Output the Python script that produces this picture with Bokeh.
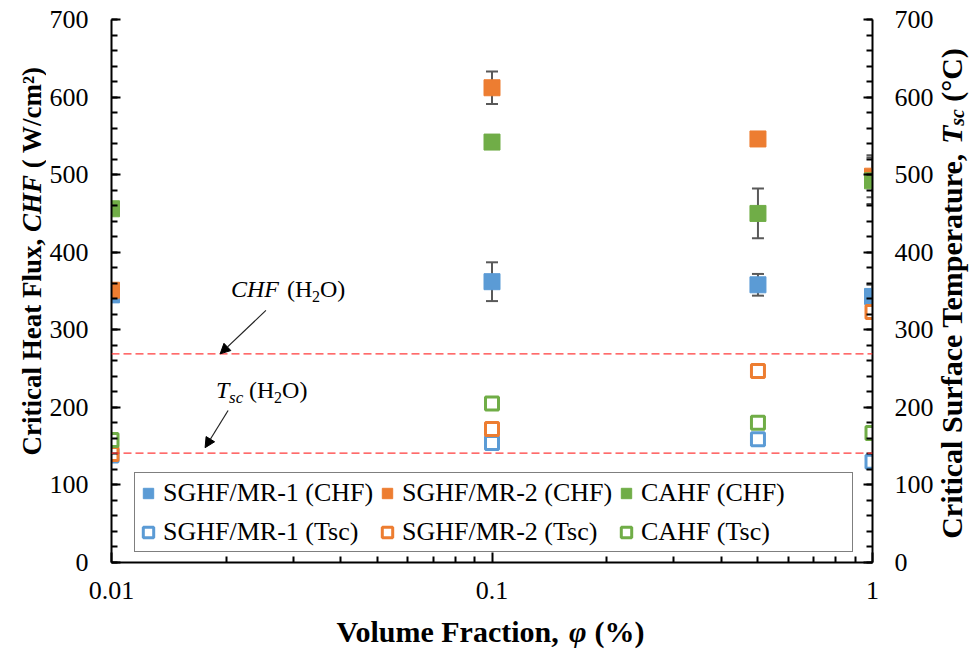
import math

from bokeh.embed import file_html
from bokeh.layouts import column, row
from bokeh.models import (Arrow, ColumnDataSource, FixedTicker, Label, Legend,
                          LegendItem, LinearAxis, NormalHead, NumeralTickFormatter,
                          Range1d, Span, TeeHead, Whisker)
from bokeh.plotting import figure
from bokeh.resources import INLINE

# ---- data -----------------------------------------------------------------
phi = [0.01, 0.1, 0.5, 1.0]                      # volume fraction (%)

chf_mr1 = [345, 362, 358, 343]                   # CHF, W/cm2
chf_mr2 = [351, 612, 546, 498]
chf_cahf = [456, 542, 450, 492]
chf_mr1_err = [0, 25, 14, 15]
chf_mr2_err = [0, 21, 0, 27]
chf_cahf_err = [0, 0, 32, 30]

tsc_mr1 = [138, 154, 159, 130]                   # surface temperature, degC
tsc_mr2 = [140, 172, 247, 323]
tsc_cahf = [158, 205, 180, 167]

chf_water = 269                                  # pure-water reference values
tsc_water = 141

y_ticks = list(range(0, 701, 100))
y_minor = list(range(0, 701, 20))
x_ticks = [0.01, 0.1, 1.0]
x_minor = [k * 10.0 ** e for e in (-2, -1) for k in range(2, 10)]

BLUE, ORANGE, GREEN = "#5B9BD5", "#ED7D31", "#70AD47"
FONT = "Liberation Serif"

# ---- page geometry: title strips around the main chart --------------------
W, H = 979, 652
FRAME_L, FRAME_R, FRAME_T, FRAME_B = 108, 872, 19, 562
LEFT_W, RIGHT_W, BOTTOM_H = 46, 43, 40
MAIN_W, MAIN_H = W - LEFT_W - RIGHT_W, H - BOTTOM_H

# ---- main chart -----------------------------------------------------------
p = figure(width=MAIN_W, height=MAIN_H, x_axis_type="log",
           x_range=Range1d(0.01, 1.0), y_range=Range1d(0, 700),
           output_backend="svg", toolbar_location=None,
           min_border_left=FRAME_L - LEFT_W, min_border_right=MAIN_W + LEFT_W - FRAME_R,
           min_border_top=FRAME_T, min_border_bottom=MAIN_H - FRAME_B)
p.extra_y_ranges = {"tsc": Range1d(0, 700)}
p.outline_line_color = None
p.grid.visible = False
p.background_fill_color = "white"
p.border_fill_color = "white"


def style_axis(ax, size="26px", tick_in=9, minor_in=6, standoff=20):
    ax.axis_line_color = "black"
    ax.axis_line_width = 2
    ax.major_tick_line_color = "black"
    ax.major_tick_line_width = 2
    ax.minor_tick_line_color = "black"
    ax.minor_tick_line_width = 2
    ax.major_tick_in = tick_in
    ax.major_tick_out = 0
    ax.minor_tick_in = minor_in
    ax.minor_tick_out = 0
    ax.major_label_text_font = FONT
    ax.major_label_text_font_size = size
    ax.major_label_text_color = "black"
    ax.major_label_standoff = standoff
    ax.axis_label = None


yax = p.yaxis[0]
yax.ticker = FixedTicker(ticks=y_ticks, minor_ticks=y_minor)
style_axis(yax, standoff=23)

yax2 = LinearAxis(y_range_name="tsc")
yax2.ticker = FixedTicker(ticks=y_ticks, minor_ticks=y_minor)
style_axis(yax2, standoff=22)
p.add_layout(yax2, "right")

xax = p.xaxis[0]
xax.ticker = FixedTicker(ticks=x_ticks, minor_ticks=x_minor)
xax.formatter = NumeralTickFormatter(format="0.[00]")
style_axis(xax, tick_in=10, minor_in=6, standoff=19)

# ---- error bars -----------------------------------------------------------
eb_x, eb_lo, eb_hi = [], [], []
for ys, es in ((chf_mr1, chf_mr1_err), (chf_mr2, chf_mr2_err), (chf_cahf, chf_cahf_err)):
    for xv, yv, ev in zip(phi, ys, es):
        if ev > 0:
            eb_x.append(xv)
            eb_lo.append(yv - ev)
            eb_hi.append(yv + ev)
eb_src = ColumnDataSource(dict(x=eb_x, lo=eb_lo, hi=eb_hi))
whisk = Whisker(base="x", lower="lo", upper="hi", source=eb_src,
                line_color="#595959", line_width=2, level="underlay",
                upper_head=TeeHead(size=12, line_color="#595959", line_width=2),
                lower_head=TeeHead(size=12, line_color="#595959", line_width=2))
p.add_layout(whisk)

# ---- markers --------------------------------------------------------------
r_c1 = p.scatter(phi, chf_mr1, marker="square", size=16, fill_color=BLUE, line_color=BLUE)
r_c2 = p.scatter(phi, chf_mr2, marker="square", size=16, fill_color=ORANGE, line_color=ORANGE)
r_c3 = p.scatter(phi, chf_cahf, marker="square", size=16, fill_color=GREEN, line_color=GREEN)
r_t1 = p.scatter(phi, tsc_mr1, marker="square", size=13, fill_color="white",
                 line_color=BLUE, line_width=3, y_range_name="tsc")
r_t2 = p.scatter(phi, tsc_mr2, marker="square", size=13, fill_color="white",
                 line_color=ORANGE, line_width=3, y_range_name="tsc")
r_t3 = p.scatter(phi, tsc_cahf, marker="square", size=13, fill_color="white",
                 line_color=GREEN, line_width=3, y_range_name="tsc")

# ---- water reference lines ----------------------------------------------
p.add_layout(Span(location=chf_water, dimension="width", line_color="#FF3B3B",
                  line_dash="8 4", line_width=1.4))
p.add_layout(Span(location=tsc_water, dimension="width", line_color="#FF3B3B",
                  line_dash="8 4", line_width=1.4, y_range_name="tsc"))

# ---- annotations for the reference lines --------------------------------
head = dict(size=10, fill_color="black", line_color="black")
p.add_layout(Arrow(x_start=0.02546, y_start=325, x_end=0.0193, y_end=chf_water,
                   line_color="#222222", line_width=1.2, end=NormalHead(**head)))
p.add_layout(Arrow(x_start=0.02025, y_start=196, x_end=0.01762, y_end=tsc_water + 7,
                   line_color="#222222", line_width=1.2, end=NormalHead(**head),
                   y_range_name="tsc"))


def txt(fig, x, y, text, size, style="normal", dx=0, dy=0, angle=0.0, align="left"):
    fig.add_layout(Label(x=x, y=y, text=text, x_offset=dx, y_offset=dy, angle=angle,
                         text_font=FONT, text_font_size=size, text_font_style=style,
                         text_color="black", text_baseline="middle",
                         text_align=align))


# "CHF (H2O)"  (anchored on the text's vertical centre)
txt(p, 0.0206, 352, "CHF", "24px", "italic")
txt(p, 0.0206, 352, "(H", "24px", dx=56)
txt(p, 0.0206, 352, "2", "16px", dx=81, dy=-7)
txt(p, 0.0206, 352, "O)", "24px", dx=89)
# "Tsc (H2O)"
txt(p, 0.01883, 222, "T", "24px", "italic")
txt(p, 0.01883, 222, "sc", "17px", "italic", dx=13, dy=-7)
txt(p, 0.01883, 222, "(H", "24px", dx=33)
txt(p, 0.01883, 222, "2", "16px", dx=58, dy=-7)
txt(p, 0.01883, 222, "O)", "24px", dx=66)

# ---- legend ---------------------------------------------------------------
legend = Legend(items=[
    LegendItem(label="SGHF/MR-1 (CHF)", renderers=[r_c1]),
    LegendItem(label="SGHF/MR-2 (CHF)", renderers=[r_c2]),
    LegendItem(label="CAHF (CHF)", renderers=[r_c3]),
    LegendItem(label="SGHF/MR-1 (Tsc)", renderers=[r_t1]),
    LegendItem(label="SGHF/MR-2 (Tsc)", renderers=[r_t2]),
    LegendItem(label="CAHF (Tsc)", renderers=[r_t3]),
], orientation="horizontal", ncols=3, location=(23, 10))
legend.label_text_font = FONT
legend.label_text_font_size = "26px"
legend.label_text_color = "black"
legend.glyph_width = 26
legend.glyph_height = 30
legend.label_standoff = 2
legend.label_width = 211
legend.label_height = 39
legend.spacing = 0
legend.padding = 0
legend.margin = 0
legend.border_line_color = "black"
legend.border_line_width = 1.5
legend.background_fill_color = "white"
legend.background_fill_alpha = 1.0
p.add_layout(legend)


# ---- axis titles, drawn in blank strips ------------------------------------
def side_strip(w):
    # frame shares the main chart's vertical extent; y data == page pixel row
    f = figure(width=w, height=MAIN_H, x_range=Range1d(0, w),
               y_range=Range1d(FRAME_B, FRAME_T),
               output_backend="svg", toolbar_location=None,
               min_border_left=0, min_border_right=0,
               min_border_top=FRAME_T, min_border_bottom=MAIN_H - FRAME_B,
               x_axis_location=None, y_axis_location=None)
    f.outline_line_color = None
    f.grid.visible = False
    f.background_fill_color = "white"
    f.border_fill_color = "white"
    return f


def vertical_title(fig, cx, y_start, size, pieces):
    """Stack text pieces upward from page row y_start; each piece is
    (text, style, width_em, gap_em, scale, shift), centred on its own span."""
    y = y_start
    for text, style, w_em, gap_em, scale, shift in pieces:
        w = w_em * size * scale
        txt(fig, cx + shift, y - w / 2, text, f"{round(size * scale)}px", style,
            angle=math.pi / 2, align="center")
        y -= w + gap_em * size


# left: Critical Heat Flux, CHF ( W/cm²)
left = side_strip(LEFT_W)
vertical_title(left, 31, 455, 27, [
    ("Critical Heat Flux,", "bold", 8.027, 0.25, 1.0, 0),
    ("CHF", "bold italic", 2.112, 0.25, 1.0, 0),
    ("( W/cm²)", "bold", 3.771, 0.0, 1.0, 0),
])

# right: Critical Surface Temperature, Tsc (°C)
right = side_strip(RIGHT_W)
vertical_title(right, 951 - (W - RIGHT_W), 540, 30, [
    ("Critical Surface Temperature,", "bold", 12.969, 0.25, 1.0, 0),
    ("T", "bold italic", 0.611, 0.0, 1.0, 0),
    ("sc", "bold italic", 0.833, 0.25, 0.65, 5),
    ("(°C)", "bold", 1.788, 0.0, 1.0, 0),
])

# bottom: Volume Fraction, φ (%)
bottom = figure(width=W, height=BOTTOM_H, x_range=Range1d(0, W),
                y_range=Range1d(H, H - BOTTOM_H),
                output_backend="svg", toolbar_location=None, min_border=0,
                x_axis_location=None, y_axis_location=None)
bottom.outline_line_color = None
bottom.grid.visible = False
bottom.background_fill_color = "white"
bottom.border_fill_color = "white"
s = 30
x0, cy = 336, 631
txt(bottom, x0, cy, "Volume Fraction,", f"{s}px", "bold")
x1 = x0 + 7.749 * s
txt(bottom, x1, cy, "φ", f"{s}px", "bold italic")
x2 = x1 + 0.85 * s
txt(bottom, x2, cy, "(%)", f"{s}px", "bold")

page = column(row(left, p, right), bottom, spacing=0)
open("out.html", "w").write(file_html(page, INLINE))
